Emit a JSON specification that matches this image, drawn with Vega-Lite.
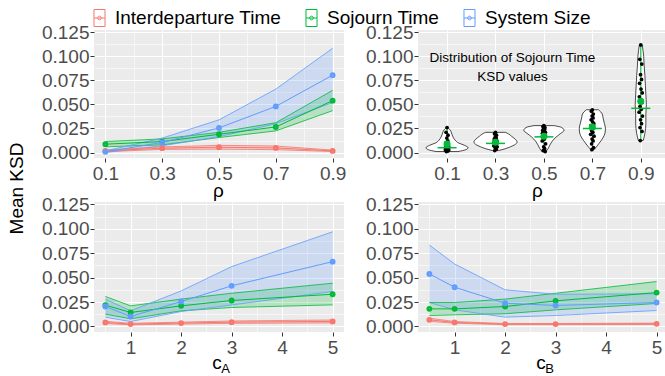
{
  "$schema": "https://vega.github.io/schema/vega-lite/v6.json",
  "autosize": {"type": "none"},
  "padding": {"left": 94, "top": 30, "right": 571, "bottom": 346},
  "background": "white",
  "config": {
    "font": "Liberation Sans",
    "view": {"fill": "#EBEBEB", "stroke": null},
    "axis": {
      "domain": false, "gridColor": "#FFFFFF", "tickColor": "#333333", "tickSize": 4, "tickWidth": 1,
      "labelColor": "#4D4D4D", "labelFontSize": 19, "labelFont": "Liberation Sans",
      "titleFont": "Liberation Sans", "titleFontSize": 19, "titleFontWeight": "normal", "titleColor": "#000000",
      "labelFlush": false, "labelOverlap": false, "minExtent": 0
    },
    "legend": {"labelFont": "Liberation Sans"}
  },
  "datasets": {
    "series": [
      {"panel": "rho", "x": 0.1, "metric": "Interdeparture Time", "mean": 0.0017, "lo": 0.0008, "hi": 0.0027},
      {"panel": "rho", "x": 0.3, "metric": "Interdeparture Time", "mean": 0.0045, "lo": 0.0033, "hi": 0.0058},
      {"panel": "rho", "x": 0.5, "metric": "Interdeparture Time", "mean": 0.0055, "lo": 0.0035, "hi": 0.0075},
      {"panel": "rho", "x": 0.7, "metric": "Interdeparture Time", "mean": 0.0048, "lo": 0.0030, "hi": 0.0068},
      {"panel": "rho", "x": 0.9, "metric": "Interdeparture Time", "mean": 0.0017, "lo": 0.0010, "hi": 0.0025},
      {"panel": "rho", "x": 0.1, "metric": "Sojourn Time", "mean": 0.0087, "lo": 0.0059, "hi": 0.0114},
      {"panel": "rho", "x": 0.3, "metric": "Sojourn Time", "mean": 0.0114, "lo": 0.0080, "hi": 0.0142},
      {"panel": "rho", "x": 0.5, "metric": "Sojourn Time", "mean": 0.0190, "lo": 0.0156, "hi": 0.0210},
      {"panel": "rho", "x": 0.7, "metric": "Sojourn Time", "mean": 0.0266, "lo": 0.0225, "hi": 0.0310},
      {"panel": "rho", "x": 0.9, "metric": "Sojourn Time", "mean": 0.0540, "lo": 0.0436, "hi": 0.0647},
      {"panel": "rho", "x": 0.1, "metric": "System Size", "mean": 0.0007, "lo": 0.0000, "hi": 0.0017},
      {"panel": "rho", "x": 0.3, "metric": "System Size", "mean": 0.0105, "lo": 0.0070, "hi": 0.0150},
      {"panel": "rho", "x": 0.5, "metric": "System Size", "mean": 0.0256, "lo": 0.0165, "hi": 0.0340},
      {"panel": "rho", "x": 0.7, "metric": "System Size", "mean": 0.0480, "lo": 0.0300, "hi": 0.0660},
      {"panel": "rho", "x": 0.9, "metric": "System Size", "mean": 0.0805, "lo": 0.0520, "hi": 0.1085},
      {"panel": "cA", "x": 0.5, "metric": "Interdeparture Time", "mean": 0.0041, "lo": 0.0030, "hi": 0.0052},
      {"panel": "cA", "x": 1, "metric": "Interdeparture Time", "mean": 0.0024, "lo": 0.0016, "hi": 0.0032},
      {"panel": "cA", "x": 2, "metric": "Interdeparture Time", "mean": 0.0034, "lo": 0.0024, "hi": 0.0044},
      {"panel": "cA", "x": 3, "metric": "Interdeparture Time", "mean": 0.0044, "lo": 0.0032, "hi": 0.0056},
      {"panel": "cA", "x": 5, "metric": "Interdeparture Time", "mean": 0.0051, "lo": 0.0036, "hi": 0.0066},
      {"panel": "cA", "x": 0.5, "metric": "Sojourn Time", "mean": 0.0218, "lo": 0.0126, "hi": 0.0307},
      {"panel": "cA", "x": 1, "metric": "Sojourn Time", "mean": 0.0143, "lo": 0.0078, "hi": 0.0211},
      {"panel": "cA", "x": 2, "metric": "Sojourn Time", "mean": 0.0211, "lo": 0.0160, "hi": 0.0280},
      {"panel": "cA", "x": 3, "metric": "Sojourn Time", "mean": 0.0266, "lo": 0.0194, "hi": 0.0340},
      {"panel": "cA", "x": 5, "metric": "Sojourn Time", "mean": 0.0330, "lo": 0.0221, "hi": 0.0443},
      {"panel": "cA", "x": 0.5, "metric": "System Size", "mean": 0.0204, "lo": 0.0095, "hi": 0.0280},
      {"panel": "cA", "x": 1, "metric": "System Size", "mean": 0.0102, "lo": 0.0050, "hi": 0.0160},
      {"panel": "cA", "x": 2, "metric": "System Size", "mean": 0.0255, "lo": 0.0153, "hi": 0.0364},
      {"panel": "cA", "x": 3, "metric": "System Size", "mean": 0.0416, "lo": 0.0220, "hi": 0.0613},
      {"panel": "cA", "x": 5, "metric": "System Size", "mean": 0.0664, "lo": 0.0358, "hi": 0.0970},
      {"panel": "cB", "x": 0.5, "metric": "Interdeparture Time", "mean": 0.0068, "lo": 0.0052, "hi": 0.0085},
      {"panel": "cB", "x": 1, "metric": "Interdeparture Time", "mean": 0.0041, "lo": 0.0033, "hi": 0.0050},
      {"panel": "cB", "x": 2, "metric": "Interdeparture Time", "mean": 0.0024, "lo": 0.0018, "hi": 0.0030},
      {"panel": "cB", "x": 3, "metric": "Interdeparture Time", "mean": 0.0024, "lo": 0.0018, "hi": 0.0030},
      {"panel": "cB", "x": 5, "metric": "Interdeparture Time", "mean": 0.0027, "lo": 0.0020, "hi": 0.0034},
      {"panel": "cB", "x": 0.5, "metric": "Sojourn Time", "mean": 0.0180, "lo": 0.0112, "hi": 0.0245},
      {"panel": "cB", "x": 1, "metric": "Sojourn Time", "mean": 0.0180, "lo": 0.0119, "hi": 0.0245},
      {"panel": "cB", "x": 2, "metric": "Sojourn Time", "mean": 0.0204, "lo": 0.0130, "hi": 0.0280},
      {"panel": "cB", "x": 3, "metric": "Sojourn Time", "mean": 0.0262, "lo": 0.0170, "hi": 0.0340},
      {"panel": "cB", "x": 5, "metric": "Sojourn Time", "mean": 0.0347, "lo": 0.0235, "hi": 0.0460},
      {"panel": "cB", "x": 0.5, "metric": "System Size", "mean": 0.0538, "lo": 0.0245, "hi": 0.0834},
      {"panel": "cB", "x": 1, "metric": "System Size", "mean": 0.0402, "lo": 0.0170, "hi": 0.0640},
      {"panel": "cB", "x": 2, "metric": "System Size", "mean": 0.0238, "lo": 0.0095, "hi": 0.0375},
      {"panel": "cB", "x": 3, "metric": "System Size", "mean": 0.0215, "lo": 0.0112, "hi": 0.0330},
      {"panel": "cB", "x": 5, "metric": "System Size", "mean": 0.0245, "lo": 0.0163, "hi": 0.0334}
    ],
    "violin": [
      {"rho": 0.1, "ksd": 0.001, "lo": 0.055, "hi": 0.145},
      {"rho": 0.1, "ksd": 0.003, "lo": 0.022, "hi": 0.178},
      {"rho": 0.1, "ksd": 0.005, "lo": 0.013, "hi": 0.187},
      {"rho": 0.1, "ksd": 0.0075, "lo": 0.028, "hi": 0.172},
      {"rho": 0.1, "ksd": 0.010, "lo": 0.053, "hi": 0.147},
      {"rho": 0.1, "ksd": 0.013, "lo": 0.067, "hi": 0.133},
      {"rho": 0.1, "ksd": 0.016, "lo": 0.075, "hi": 0.125},
      {"rho": 0.1, "ksd": 0.019, "lo": 0.080, "hi": 0.120},
      {"rho": 0.1, "ksd": 0.022, "lo": 0.084, "hi": 0.116},
      {"rho": 0.1, "ksd": 0.024, "lo": 0.089, "hi": 0.111},
      {"rho": 0.1, "ksd": 0.026, "lo": 0.097, "hi": 0.103},
      {"rho": 0.3, "ksd": 0.002, "lo": 0.288, "hi": 0.312},
      {"rho": 0.3, "ksd": 0.004, "lo": 0.259, "hi": 0.341},
      {"rho": 0.3, "ksd": 0.006, "lo": 0.238, "hi": 0.362},
      {"rho": 0.3, "ksd": 0.008, "lo": 0.221, "hi": 0.379},
      {"rho": 0.3, "ksd": 0.011, "lo": 0.211, "hi": 0.389},
      {"rho": 0.3, "ksd": 0.014, "lo": 0.219, "hi": 0.381},
      {"rho": 0.3, "ksd": 0.017, "lo": 0.234, "hi": 0.366},
      {"rho": 0.3, "ksd": 0.019, "lo": 0.244, "hi": 0.356},
      {"rho": 0.3, "ksd": 0.021, "lo": 0.259, "hi": 0.341},
      {"rho": 0.5, "ksd": 0.001, "lo": 0.492, "hi": 0.508},
      {"rho": 0.5, "ksd": 0.004, "lo": 0.483, "hi": 0.517},
      {"rho": 0.5, "ksd": 0.008, "lo": 0.475, "hi": 0.525},
      {"rho": 0.5, "ksd": 0.012, "lo": 0.465, "hi": 0.535},
      {"rho": 0.5, "ksd": 0.016, "lo": 0.450, "hi": 0.550},
      {"rho": 0.5, "ksd": 0.020, "lo": 0.430, "hi": 0.570},
      {"rho": 0.5, "ksd": 0.023, "lo": 0.417, "hi": 0.583},
      {"rho": 0.5, "ksd": 0.026, "lo": 0.426, "hi": 0.574},
      {"rho": 0.5, "ksd": 0.028, "lo": 0.459, "hi": 0.541},
      {"rho": 0.7, "ksd": 0.003, "lo": 0.694, "hi": 0.706},
      {"rho": 0.7, "ksd": 0.006, "lo": 0.683, "hi": 0.717},
      {"rho": 0.7, "ksd": 0.010, "lo": 0.671, "hi": 0.729},
      {"rho": 0.7, "ksd": 0.015, "lo": 0.657, "hi": 0.743},
      {"rho": 0.7, "ksd": 0.020, "lo": 0.648, "hi": 0.752},
      {"rho": 0.7, "ksd": 0.025, "lo": 0.646, "hi": 0.754},
      {"rho": 0.7, "ksd": 0.030, "lo": 0.650, "hi": 0.750},
      {"rho": 0.7, "ksd": 0.035, "lo": 0.655, "hi": 0.745},
      {"rho": 0.7, "ksd": 0.040, "lo": 0.659, "hi": 0.741},
      {"rho": 0.7, "ksd": 0.0445, "lo": 0.675, "hi": 0.725},
      {"rho": 0.9, "ksd": 0.0125, "lo": 0.890, "hi": 0.910},
      {"rho": 0.9, "ksd": 0.020, "lo": 0.883, "hi": 0.917},
      {"rho": 0.9, "ksd": 0.030, "lo": 0.879, "hi": 0.921},
      {"rho": 0.9, "ksd": 0.040, "lo": 0.879, "hi": 0.921},
      {"rho": 0.9, "ksd": 0.050, "lo": 0.877, "hi": 0.923},
      {"rho": 0.9, "ksd": 0.060, "lo": 0.879, "hi": 0.921},
      {"rho": 0.9, "ksd": 0.070, "lo": 0.881, "hi": 0.919},
      {"rho": 0.9, "ksd": 0.080, "lo": 0.883, "hi": 0.917},
      {"rho": 0.9, "ksd": 0.090, "lo": 0.886, "hi": 0.914},
      {"rho": 0.9, "ksd": 0.100, "lo": 0.888, "hi": 0.912},
      {"rho": 0.9, "ksd": 0.112, "lo": 0.894, "hi": 0.906}
    ],
    "vsum": [
      {"rho": 0.1, "mean": 0.0089, "median": 0.0050, "min": 0.001, "max": 0.026},
      {"rho": 0.3, "mean": 0.0106, "median": 0.0095, "min": 0.002, "max": 0.021},
      {"rho": 0.5, "mean": 0.0170, "median": 0.0163, "min": 0.001, "max": 0.028},
      {"rho": 0.7, "mean": 0.0266, "median": 0.0250, "min": 0.003, "max": 0.0445},
      {"rho": 0.9, "mean": 0.0533, "median": 0.0460, "min": 0.0125, "max": 0.112}
    ],
    "dots": [
      {"x": 0.100, "ksd": 0.026}, {"x": 0.096, "ksd": 0.021}, {"x": 0.104, "ksd": 0.018}, {"x": 0.099, "ksd": 0.015},
      {"x": 0.103, "ksd": 0.012}, {"x": 0.095, "ksd": 0.010}, {"x": 0.101, "ksd": 0.008}, {"x": 0.106, "ksd": 0.0065},
      {"x": 0.094, "ksd": 0.0055}, {"x": 0.100, "ksd": 0.005}, {"x": 0.105, "ksd": 0.0045}, {"x": 0.097, "ksd": 0.004},
      {"x": 0.102, "ksd": 0.0035}, {"x": 0.093, "ksd": 0.003}, {"x": 0.107, "ksd": 0.0025}, {"x": 0.099, "ksd": 0.002},
      {"x": 0.103, "ksd": 0.0015}, {"x": 0.097, "ksd": 0.001},
      {"x": 0.300, "ksd": 0.021}, {"x": 0.296, "ksd": 0.0195}, {"x": 0.304, "ksd": 0.018}, {"x": 0.299, "ksd": 0.016},
      {"x": 0.303, "ksd": 0.015}, {"x": 0.295, "ksd": 0.014}, {"x": 0.301, "ksd": 0.013}, {"x": 0.306, "ksd": 0.012},
      {"x": 0.294, "ksd": 0.011}, {"x": 0.300, "ksd": 0.010}, {"x": 0.305, "ksd": 0.0095}, {"x": 0.297, "ksd": 0.009},
      {"x": 0.302, "ksd": 0.008}, {"x": 0.293, "ksd": 0.007}, {"x": 0.307, "ksd": 0.006}, {"x": 0.299, "ksd": 0.005},
      {"x": 0.303, "ksd": 0.0035}, {"x": 0.297, "ksd": 0.002},
      {"x": 0.500, "ksd": 0.028}, {"x": 0.496, "ksd": 0.027}, {"x": 0.504, "ksd": 0.026}, {"x": 0.499, "ksd": 0.025},
      {"x": 0.503, "ksd": 0.024}, {"x": 0.495, "ksd": 0.023}, {"x": 0.501, "ksd": 0.022}, {"x": 0.506, "ksd": 0.021},
      {"x": 0.494, "ksd": 0.020}, {"x": 0.500, "ksd": 0.019}, {"x": 0.505, "ksd": 0.018}, {"x": 0.497, "ksd": 0.016},
      {"x": 0.502, "ksd": 0.014}, {"x": 0.493, "ksd": 0.012}, {"x": 0.507, "ksd": 0.009}, {"x": 0.499, "ksd": 0.006},
      {"x": 0.503, "ksd": 0.004}, {"x": 0.497, "ksd": 0.002}, {"x": 0.505, "ksd": 0.001},
      {"x": 0.700, "ksd": 0.0445}, {"x": 0.696, "ksd": 0.043}, {"x": 0.704, "ksd": 0.040}, {"x": 0.699, "ksd": 0.038},
      {"x": 0.703, "ksd": 0.036}, {"x": 0.695, "ksd": 0.034}, {"x": 0.701, "ksd": 0.032}, {"x": 0.706, "ksd": 0.030},
      {"x": 0.694, "ksd": 0.028}, {"x": 0.700, "ksd": 0.026}, {"x": 0.705, "ksd": 0.025}, {"x": 0.697, "ksd": 0.023},
      {"x": 0.702, "ksd": 0.021}, {"x": 0.693, "ksd": 0.019}, {"x": 0.707, "ksd": 0.017}, {"x": 0.699, "ksd": 0.014},
      {"x": 0.703, "ksd": 0.012}, {"x": 0.697, "ksd": 0.009}, {"x": 0.705, "ksd": 0.005}, {"x": 0.698, "ksd": 0.003},
      {"x": 0.900, "ksd": 0.112}, {"x": 0.896, "ksd": 0.097}, {"x": 0.904, "ksd": 0.092}, {"x": 0.899, "ksd": 0.081},
      {"x": 0.903, "ksd": 0.076}, {"x": 0.895, "ksd": 0.072}, {"x": 0.901, "ksd": 0.066}, {"x": 0.906, "ksd": 0.062},
      {"x": 0.894, "ksd": 0.058}, {"x": 0.900, "ksd": 0.055}, {"x": 0.905, "ksd": 0.052}, {"x": 0.897, "ksd": 0.048},
      {"x": 0.902, "ksd": 0.045}, {"x": 0.893, "ksd": 0.042}, {"x": 0.907, "ksd": 0.038}, {"x": 0.899, "ksd": 0.034},
      {"x": 0.903, "ksd": 0.030}, {"x": 0.897, "ksd": 0.026}, {"x": 0.905, "ksd": 0.022}, {"x": 0.898, "ksd": 0.0125}
    ],
    "note": [
      {"x": 0.37, "y": 0.0983, "label": "Distribution of Sojourn Time\nKSD values"}
    ]
  },
  "resolve": {
    "scale": {"fill": "shared", "stroke": "shared", "x": "independent", "y": "independent"},
    "legend": {"fill": "shared", "stroke": "shared"}
  },
  "columns": 2,
  "spacing": {"row": 44, "column": 74},
  "bounds": "flush",
  "concat": [
    {
      "width": 250, "height": 128,
      "data": {"name": "series"},
      "transform": [{"filter": "datum.panel === 'rho'"}],
      "resolve": {"axis": {"x": "independent", "y": "independent"}},
      "layer": [
        {
          "mark": {"type": "area"},
          "encoding": {
            "x": {"field": "x", "type": "quantitative", "scale": {"domain": [0.06, 0.94], "nice": false, "zero": false},
                  "axis": {"orient": "top", "values": [0.2, 0.4, 0.6, 0.8], "grid": true, "gridWidth": 0.55, "labels": false, "ticks": false, "domain": false, "title": null}},
            "y": {"field": "lo", "type": "quantitative", "scale": {"domain": [-0.0057, 0.1275], "nice": false, "zero": false},
                  "axis": {"orient": "right", "values": [0.0125, 0.0375, 0.0625, 0.0875, 0.1125], "grid": true, "gridWidth": 0.55, "labels": false, "ticks": false, "domain": false, "title": null}},
            "y2": {"field": "hi"},
            "fill": {"field": "metric", "type": "nominal",
                     "scale": {"domain": ["System Size", "Sojourn Time", "Interdeparture Time"], "range": ["rgba(97,156,255,0.22)", "rgba(0,186,56,0.22)", "rgba(248,118,109,0.22)"]},
                     "legend": null}
          }
        },
        {
          "mark": {"type": "line", "strokeWidth": 0.8},
          "encoding": {
            "x": {"field": "x", "type": "quantitative", "scale": {"domain": [0.06, 0.94], "nice": false, "zero": false}, "axis": null},
            "y": {"field": "lo", "type": "quantitative", "scale": {"domain": [-0.0057, 0.1275], "nice": false, "zero": false}, "axis": null},
            "stroke": {"field": "metric", "type": "nominal",
                       "scale": {"domain": ["Interdeparture Time", "Sojourn Time", "System Size"], "range": ["#F8766D", "#00BA38", "#619CFF"]},
                       "legend": {"title": null, "orient": "none", "legendX": -4, "legendY": -21.5, "direction": "horizontal", "columns": 3, "symbolType": "M-0.65,-1H0.65V1H-0.65Z M-0.65,0H0.65 M-0.22,0A0.22,0.22 0 1 1 0.22,0A0.22,0.22 0 1 1 -0.22,0", "symbolSize": 289, "symbolStrokeWidth": 1, "symbolFillColor": "transparent", "labelFontSize": 19, "labelColor": "#000000", "labelOffset": 6, "columnPadding": 20, "padding": 0, "labelLimit": 400}}
          }
        },
        {
          "mark": {"type": "line", "strokeWidth": 0.8},
          "encoding": {
            "x": {"field": "x", "type": "quantitative", "scale": {"domain": [0.06, 0.94], "nice": false, "zero": false}, "axis": null},
            "y": {"field": "hi", "type": "quantitative", "scale": {"domain": [-0.0057, 0.1275], "nice": false, "zero": false}, "axis": null},
            "stroke": {"field": "metric", "type": "nominal",
                       "scale": {"domain": ["Interdeparture Time", "Sojourn Time", "System Size"], "range": ["#F8766D", "#00BA38", "#619CFF"]},
                       "legend": {"title": null, "orient": "none", "legendX": -4, "legendY": -21.5, "direction": "horizontal", "columns": 3, "symbolType": "M-0.65,-1H0.65V1H-0.65Z M-0.65,0H0.65 M-0.22,0A0.22,0.22 0 1 1 0.22,0A0.22,0.22 0 1 1 -0.22,0", "symbolSize": 289, "symbolStrokeWidth": 1, "symbolFillColor": "transparent", "labelFontSize": 19, "labelColor": "#000000", "labelOffset": 6, "columnPadding": 20, "padding": 0, "labelLimit": 400}}
          }
        },
        {
          "mark": {"type": "line", "strokeWidth": 1},
          "encoding": {
            "x": {"field": "x", "type": "quantitative", "scale": {"domain": [0.06, 0.94], "nice": false, "zero": false},
                  "axis": {"orient": "bottom", "values": [0.1, 0.3, 0.5, 0.7, 0.9], "format": ".1f", "grid": true, "gridWidth": 1.1, "labelPadding": 2, "title": "ρ", "titleX": 124, "titleY": 38, "titleAlign": "center", "titleBaseline": "alphabetic", "titleAngle": 0}},
            "y": {"field": "mean", "type": "quantitative", "scale": {"domain": [-0.0057, 0.1275], "nice": false, "zero": false},
                  "axis": {"orient": "left", "values": [0, 0.025, 0.05, 0.075, 0.1, 0.125], "format": ".3f", "grid": true, "gridWidth": 1.1, "labelPadding": 1, "title": "Mean KSD", "titleX": -77.5, "titleY": 158, "titleAlign": "center", "titleBaseline": "middle", "titleAngle": -90}},
            "stroke": {"field": "metric", "type": "nominal",
                       "scale": {"domain": ["Interdeparture Time", "Sojourn Time", "System Size"], "range": ["#F8766D", "#00BA38", "#619CFF"]},
                       "legend": {"title": null, "orient": "none", "legendX": -4, "legendY": -21.5, "direction": "horizontal", "columns": 3, "symbolType": "M-0.65,-1H0.65V1H-0.65Z M-0.65,0H0.65 M-0.22,0A0.22,0.22 0 1 1 0.22,0A0.22,0.22 0 1 1 -0.22,0", "symbolSize": 289, "symbolStrokeWidth": 1, "symbolFillColor": "transparent", "labelFontSize": 19, "labelColor": "#000000", "labelOffset": 6, "columnPadding": 20, "padding": 0, "labelLimit": 400}}
          }
        },
        {
          "mark": {"type": "point", "shape": "circle", "filled": false, "size": 6, "strokeWidth": 3.4, "opacity": 1},
          "encoding": {
            "x": {"field": "x", "type": "quantitative", "scale": {"domain": [0.06, 0.94], "nice": false, "zero": false}, "axis": null},
            "y": {"field": "mean", "type": "quantitative", "scale": {"domain": [-0.0057, 0.1275], "nice": false, "zero": false}, "axis": null},
            "stroke": {"field": "metric", "type": "nominal",
                       "scale": {"domain": ["Interdeparture Time", "Sojourn Time", "System Size"], "range": ["#F8766D", "#00BA38", "#619CFF"]},
                       "legend": {"title": null, "orient": "none", "legendX": -4, "legendY": -21.5, "direction": "horizontal", "columns": 3, "symbolType": "M-0.65,-1H0.65V1H-0.65Z M-0.65,0H0.65 M-0.22,0A0.22,0.22 0 1 1 0.22,0A0.22,0.22 0 1 1 -0.22,0", "symbolSize": 289, "symbolStrokeWidth": 1, "symbolFillColor": "transparent", "labelFontSize": 19, "labelColor": "#000000", "labelOffset": 6, "columnPadding": 20, "padding": 0, "labelLimit": 400}}
          }
        }
      ]
    },
    {
      "width": 247, "height": 128,
      "resolve": {"axis": {"x": "independent", "y": "independent"}},
      "layer": [
        {
          "data": {"name": "violin"},
          "mark": {"type": "area", "orient": "horizontal", "fill": "#FFFFFF", "stroke": "#000000", "strokeWidth": 0.7, "interpolate": "monotone"},
          "encoding": {
            "y": {"field": "ksd", "type": "quantitative", "scale": {"domain": [-0.0057, 0.1275], "nice": false, "zero": false},
                  "axis": {"orient": "left", "values": [0, 0.025, 0.05, 0.075, 0.1, 0.125], "format": ".3f", "grid": true, "gridWidth": 1.1, "labelPadding": 1, "title": null}},
            "x": {"field": "lo", "type": "quantitative", "scale": {"domain": [-0.02, 1.0], "nice": false, "zero": false},
                  "axis": {"orient": "bottom", "values": [0.1, 0.3, 0.5, 0.7, 0.9], "format": ".1f", "grid": true, "gridWidth": 1.1, "labelPadding": 2, "title": "ρ", "titleX": 119, "titleY": 38, "titleAlign": "center", "titleBaseline": "alphabetic", "titleAngle": 0}},
            "x2": {"field": "hi"},
            "detail": {"field": "rho", "type": "nominal"}
          }
        },
        {
          "data": {"name": "vsum"},
          "mark": {"type": "rule", "color": "#00BA38", "strokeWidth": 1.1},
          "encoding": {
            "x": {"field": "rho", "type": "quantitative", "scale": {"domain": [-0.02, 1.0], "nice": false, "zero": false}, "axis": null},
            "y": {"field": "min", "type": "quantitative", "scale": {"domain": [-0.0057, 0.1275], "nice": false, "zero": false},
                  "axis": {"orient": "right", "values": [0.0125, 0.0375, 0.0625, 0.0875, 0.1125], "grid": true, "gridWidth": 0.55, "labels": false, "ticks": false, "domain": false, "title": null}},
            "y2": {"field": "max"}
          }
        },
        {
          "data": {"name": "dots"},
          "mark": {"type": "circle", "color": "#000000", "size": 14, "opacity": 1},
          "encoding": {
            "x": {"field": "x", "type": "quantitative", "scale": {"domain": [-0.02, 1.0], "nice": false, "zero": false}, "axis": null},
            "y": {"field": "ksd", "type": "quantitative", "scale": {"domain": [-0.0057, 0.1275], "nice": false, "zero": false}, "axis": null}
          }
        },
        {
          "data": {"name": "vsum"},
          "mark": {"type": "tick", "orient": "horizontal", "color": "#00BA38", "size": 19, "thickness": 1.5, "opacity": 1},
          "encoding": {
            "x": {"field": "rho", "type": "quantitative", "scale": {"domain": [-0.02, 1.0], "nice": false, "zero": false}, "axis": null},
            "y": {"field": "median", "type": "quantitative", "scale": {"domain": [-0.0057, 0.1275], "nice": false, "zero": false}, "axis": null}
          }
        },
        {
          "data": {"name": "vsum"},
          "mark": {"type": "circle", "color": "#00BA38", "size": 50, "opacity": 1},
          "encoding": {
            "x": {"field": "rho", "type": "quantitative", "scale": {"domain": [-0.02, 1.0], "nice": false, "zero": false}, "axis": null},
            "y": {"field": "mean", "type": "quantitative", "scale": {"domain": [-0.0057, 0.1275], "nice": false, "zero": false}, "axis": null}
          }
        },
        {
          "data": {"name": "note"},
          "mark": {"type": "text", "lineBreak": "\n", "fontSize": 13.5, "lineHeight": 19, "align": "center", "baseline": "middle", "color": "#000000", "font": "Liberation Sans"},
          "encoding": {
            "x": {"field": "x", "type": "quantitative", "scale": {"domain": [-0.02, 1.0], "nice": false, "zero": false}, "axis": null},
            "y": {"field": "y", "type": "quantitative", "scale": {"domain": [-0.0057, 0.1275], "nice": false, "zero": false}, "axis": null},
            "text": {"field": "label"}
          }
        }
      ]
    },
    {
      "width": 250, "height": 130,
      "data": {"name": "series"},
      "transform": [{"filter": "datum.panel === 'cA'"}],
      "resolve": {"axis": {"x": "independent", "y": "independent"}},
      "layer": [
        {
          "mark": {"type": "area"},
          "encoding": {
            "x": {"field": "x", "type": "quantitative", "scale": {"domain": [0.275, 5.225], "nice": false, "zero": false},
                  "axis": {"orient": "top", "values": [0.5, 1.5, 2.5, 3.5, 4.5], "grid": true, "gridWidth": 0.55, "labels": false, "ticks": false, "domain": false, "title": "A", "titleX": 131, "titleY": 170, "titleAlign": "center", "titleBaseline": "alphabetic", "titleAngle": 0, "titleFontSize": 13}},
            "y": {"field": "lo", "type": "quantitative", "scale": {"domain": [-0.0057, 0.1275], "nice": false, "zero": false},
                  "axis": {"orient": "right", "values": [0.0125, 0.0375, 0.0625, 0.0875, 0.1125], "grid": true, "gridWidth": 0.55, "labels": false, "ticks": false, "domain": false, "title": null}},
            "y2": {"field": "hi"},
            "fill": {"field": "metric", "type": "nominal",
                     "scale": {"domain": ["System Size", "Sojourn Time", "Interdeparture Time"], "range": ["rgba(97,156,255,0.22)", "rgba(0,186,56,0.22)", "rgba(248,118,109,0.22)"]},
                     "legend": null}
          }
        },
        {
          "mark": {"type": "line", "strokeWidth": 0.8},
          "encoding": {
            "x": {"field": "x", "type": "quantitative", "scale": {"domain": [0.275, 5.225], "nice": false, "zero": false}, "axis": null},
            "y": {"field": "lo", "type": "quantitative", "scale": {"domain": [-0.0057, 0.1275], "nice": false, "zero": false}, "axis": null},
            "stroke": {"field": "metric", "type": "nominal",
                       "scale": {"domain": ["Interdeparture Time", "Sojourn Time", "System Size"], "range": ["#F8766D", "#00BA38", "#619CFF"]},
                       "legend": {"title": null, "orient": "none", "legendX": -4, "legendY": -21.5, "direction": "horizontal", "columns": 3, "symbolType": "M-0.65,-1H0.65V1H-0.65Z M-0.65,0H0.65 M-0.22,0A0.22,0.22 0 1 1 0.22,0A0.22,0.22 0 1 1 -0.22,0", "symbolSize": 289, "symbolStrokeWidth": 1, "symbolFillColor": "transparent", "labelFontSize": 19, "labelColor": "#000000", "labelOffset": 6, "columnPadding": 20, "padding": 0, "labelLimit": 400}}
          }
        },
        {
          "mark": {"type": "line", "strokeWidth": 0.8},
          "encoding": {
            "x": {"field": "x", "type": "quantitative", "scale": {"domain": [0.275, 5.225], "nice": false, "zero": false}, "axis": null},
            "y": {"field": "hi", "type": "quantitative", "scale": {"domain": [-0.0057, 0.1275], "nice": false, "zero": false}, "axis": null},
            "stroke": {"field": "metric", "type": "nominal",
                       "scale": {"domain": ["Interdeparture Time", "Sojourn Time", "System Size"], "range": ["#F8766D", "#00BA38", "#619CFF"]},
                       "legend": {"title": null, "orient": "none", "legendX": -4, "legendY": -21.5, "direction": "horizontal", "columns": 3, "symbolType": "M-0.65,-1H0.65V1H-0.65Z M-0.65,0H0.65 M-0.22,0A0.22,0.22 0 1 1 0.22,0A0.22,0.22 0 1 1 -0.22,0", "symbolSize": 289, "symbolStrokeWidth": 1, "symbolFillColor": "transparent", "labelFontSize": 19, "labelColor": "#000000", "labelOffset": 6, "columnPadding": 20, "padding": 0, "labelLimit": 400}}
          }
        },
        {
          "mark": {"type": "line", "strokeWidth": 1},
          "encoding": {
            "x": {"field": "x", "type": "quantitative", "scale": {"domain": [0.275, 5.225], "nice": false, "zero": false},
                  "axis": {"orient": "bottom", "values": [1, 2, 3, 4, 5], "format": "d", "grid": true, "gridWidth": 1.1, "labelPadding": 2, "title": "c", "titleX": 122.5, "titleY": 36, "titleAlign": "center", "titleBaseline": "alphabetic", "titleAngle": 0}},
            "y": {"field": "mean", "type": "quantitative", "scale": {"domain": [-0.0057, 0.1275], "nice": false, "zero": false},
                  "axis": {"orient": "left", "values": [0, 0.025, 0.05, 0.075, 0.1, 0.125], "format": ".3f", "grid": true, "gridWidth": 1.1, "labelPadding": 1, "title": null}},
            "stroke": {"field": "metric", "type": "nominal",
                       "scale": {"domain": ["Interdeparture Time", "Sojourn Time", "System Size"], "range": ["#F8766D", "#00BA38", "#619CFF"]},
                       "legend": {"title": null, "orient": "none", "legendX": -4, "legendY": -21.5, "direction": "horizontal", "columns": 3, "symbolType": "M-0.65,-1H0.65V1H-0.65Z M-0.65,0H0.65 M-0.22,0A0.22,0.22 0 1 1 0.22,0A0.22,0.22 0 1 1 -0.22,0", "symbolSize": 289, "symbolStrokeWidth": 1, "symbolFillColor": "transparent", "labelFontSize": 19, "labelColor": "#000000", "labelOffset": 6, "columnPadding": 20, "padding": 0, "labelLimit": 400}}
          }
        },
        {
          "mark": {"type": "point", "shape": "circle", "filled": false, "size": 6, "strokeWidth": 3.4, "opacity": 1},
          "encoding": {
            "x": {"field": "x", "type": "quantitative", "scale": {"domain": [0.275, 5.225], "nice": false, "zero": false}, "axis": null},
            "y": {"field": "mean", "type": "quantitative", "scale": {"domain": [-0.0057, 0.1275], "nice": false, "zero": false}, "axis": null},
            "stroke": {"field": "metric", "type": "nominal",
                       "scale": {"domain": ["Interdeparture Time", "Sojourn Time", "System Size"], "range": ["#F8766D", "#00BA38", "#619CFF"]},
                       "legend": {"title": null, "orient": "none", "legendX": -4, "legendY": -21.5, "direction": "horizontal", "columns": 3, "symbolType": "M-0.65,-1H0.65V1H-0.65Z M-0.65,0H0.65 M-0.22,0A0.22,0.22 0 1 1 0.22,0A0.22,0.22 0 1 1 -0.22,0", "symbolSize": 289, "symbolStrokeWidth": 1, "symbolFillColor": "transparent", "labelFontSize": 19, "labelColor": "#000000", "labelOffset": 6, "columnPadding": 20, "padding": 0, "labelLimit": 400}}
          }
        }
      ]
    },
    {
      "width": 247, "height": 130,
      "data": {"name": "series"},
      "transform": [{"filter": "datum.panel === 'cB'"}],
      "resolve": {"axis": {"x": "independent", "y": "independent"}},
      "layer": [
        {
          "mark": {"type": "area"},
          "encoding": {
            "x": {"field": "x", "type": "quantitative", "scale": {"domain": [0.275, 5.166], "nice": false, "zero": false},
                  "axis": {"orient": "top", "values": [0.5, 1.5, 2.5, 3.5, 4.5], "grid": true, "gridWidth": 0.55, "labels": false, "ticks": false, "domain": false, "title": "B", "titleX": 131, "titleY": 170, "titleAlign": "center", "titleBaseline": "alphabetic", "titleAngle": 0, "titleFontSize": 13}},
            "y": {"field": "lo", "type": "quantitative", "scale": {"domain": [-0.0057, 0.1275], "nice": false, "zero": false},
                  "axis": {"orient": "right", "values": [0.0125, 0.0375, 0.0625, 0.0875, 0.1125], "grid": true, "gridWidth": 0.55, "labels": false, "ticks": false, "domain": false, "title": null}},
            "y2": {"field": "hi"},
            "fill": {"field": "metric", "type": "nominal",
                     "scale": {"domain": ["System Size", "Sojourn Time", "Interdeparture Time"], "range": ["rgba(97,156,255,0.22)", "rgba(0,186,56,0.22)", "rgba(248,118,109,0.22)"]},
                     "legend": null}
          }
        },
        {
          "mark": {"type": "line", "strokeWidth": 0.8},
          "encoding": {
            "x": {"field": "x", "type": "quantitative", "scale": {"domain": [0.275, 5.166], "nice": false, "zero": false}, "axis": null},
            "y": {"field": "lo", "type": "quantitative", "scale": {"domain": [-0.0057, 0.1275], "nice": false, "zero": false}, "axis": null},
            "stroke": {"field": "metric", "type": "nominal",
                       "scale": {"domain": ["Interdeparture Time", "Sojourn Time", "System Size"], "range": ["#F8766D", "#00BA38", "#619CFF"]},
                       "legend": {"title": null, "orient": "none", "legendX": -4, "legendY": -21.5, "direction": "horizontal", "columns": 3, "symbolType": "M-0.65,-1H0.65V1H-0.65Z M-0.65,0H0.65 M-0.22,0A0.22,0.22 0 1 1 0.22,0A0.22,0.22 0 1 1 -0.22,0", "symbolSize": 289, "symbolStrokeWidth": 1, "symbolFillColor": "transparent", "labelFontSize": 19, "labelColor": "#000000", "labelOffset": 6, "columnPadding": 20, "padding": 0, "labelLimit": 400}}
          }
        },
        {
          "mark": {"type": "line", "strokeWidth": 0.8},
          "encoding": {
            "x": {"field": "x", "type": "quantitative", "scale": {"domain": [0.275, 5.166], "nice": false, "zero": false}, "axis": null},
            "y": {"field": "hi", "type": "quantitative", "scale": {"domain": [-0.0057, 0.1275], "nice": false, "zero": false}, "axis": null},
            "stroke": {"field": "metric", "type": "nominal",
                       "scale": {"domain": ["Interdeparture Time", "Sojourn Time", "System Size"], "range": ["#F8766D", "#00BA38", "#619CFF"]},
                       "legend": {"title": null, "orient": "none", "legendX": -4, "legendY": -21.5, "direction": "horizontal", "columns": 3, "symbolType": "M-0.65,-1H0.65V1H-0.65Z M-0.65,0H0.65 M-0.22,0A0.22,0.22 0 1 1 0.22,0A0.22,0.22 0 1 1 -0.22,0", "symbolSize": 289, "symbolStrokeWidth": 1, "symbolFillColor": "transparent", "labelFontSize": 19, "labelColor": "#000000", "labelOffset": 6, "columnPadding": 20, "padding": 0, "labelLimit": 400}}
          }
        },
        {
          "mark": {"type": "line", "strokeWidth": 1},
          "encoding": {
            "x": {"field": "x", "type": "quantitative", "scale": {"domain": [0.275, 5.166], "nice": false, "zero": false},
                  "axis": {"orient": "bottom", "values": [1, 2, 3, 4, 5], "format": "d", "grid": true, "gridWidth": 1.1, "labelPadding": 2, "title": "c", "titleX": 122.5, "titleY": 36, "titleAlign": "center", "titleBaseline": "alphabetic", "titleAngle": 0}},
            "y": {"field": "mean", "type": "quantitative", "scale": {"domain": [-0.0057, 0.1275], "nice": false, "zero": false},
                  "axis": {"orient": "left", "values": [0, 0.025, 0.05, 0.075, 0.1, 0.125], "format": ".3f", "grid": true, "gridWidth": 1.1, "labelPadding": 1, "title": null}},
            "stroke": {"field": "metric", "type": "nominal",
                       "scale": {"domain": ["Interdeparture Time", "Sojourn Time", "System Size"], "range": ["#F8766D", "#00BA38", "#619CFF"]},
                       "legend": {"title": null, "orient": "none", "legendX": -4, "legendY": -21.5, "direction": "horizontal", "columns": 3, "symbolType": "M-0.65,-1H0.65V1H-0.65Z M-0.65,0H0.65 M-0.22,0A0.22,0.22 0 1 1 0.22,0A0.22,0.22 0 1 1 -0.22,0", "symbolSize": 289, "symbolStrokeWidth": 1, "symbolFillColor": "transparent", "labelFontSize": 19, "labelColor": "#000000", "labelOffset": 6, "columnPadding": 20, "padding": 0, "labelLimit": 400}}
          }
        },
        {
          "mark": {"type": "point", "shape": "circle", "filled": false, "size": 6, "strokeWidth": 3.4, "opacity": 1},
          "encoding": {
            "x": {"field": "x", "type": "quantitative", "scale": {"domain": [0.275, 5.166], "nice": false, "zero": false}, "axis": null},
            "y": {"field": "mean", "type": "quantitative", "scale": {"domain": [-0.0057, 0.1275], "nice": false, "zero": false}, "axis": null},
            "stroke": {"field": "metric", "type": "nominal",
                       "scale": {"domain": ["Interdeparture Time", "Sojourn Time", "System Size"], "range": ["#F8766D", "#00BA38", "#619CFF"]},
                       "legend": {"title": null, "orient": "none", "legendX": -4, "legendY": -21.5, "direction": "horizontal", "columns": 3, "symbolType": "M-0.65,-1H0.65V1H-0.65Z M-0.65,0H0.65 M-0.22,0A0.22,0.22 0 1 1 0.22,0A0.22,0.22 0 1 1 -0.22,0", "symbolSize": 289, "symbolStrokeWidth": 1, "symbolFillColor": "transparent", "labelFontSize": 19, "labelColor": "#000000", "labelOffset": 6, "columnPadding": 20, "padding": 0, "labelLimit": 400}}
          }
        }
      ]
    }
  ]
}
